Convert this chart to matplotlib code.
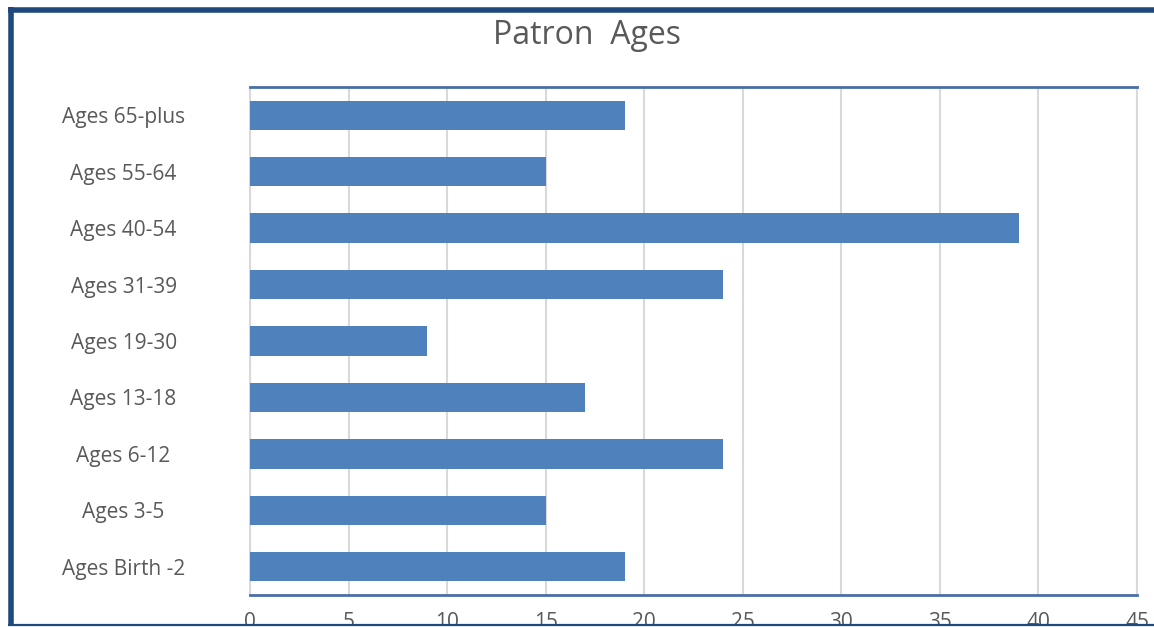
import matplotlib.pyplot as plt
from matplotlib.lines import Line2D

categories = ['Ages Birth -2', 'Ages 3-5', 'Ages 6-12', 'Ages 13-18', 'Ages 19-30',
              'Ages 31-39', 'Ages 40-54', 'Ages 55-64', 'Ages 65-plus']
patrons = [19, 15, 24, 17, 9, 24, 39, 15, 19]
x_ticks = list(range(0, 50, 5))

plt.rcParams['font.family'] = ['Open Sans', 'DejaVu Sans']
text_color = '#595959'
W, H = 1154, 627

fig = plt.figure(figsize=(W / 100, H / 100), dpi=100)
ax = fig.add_axes([250 / W, 1 - 595 / H, (1137 - 250) / W, (595 - 87) / H])

ax.barh(range(len(categories)), patrons, height=0.52, color='#4F81BD', zorder=3)
ax.set_xlim(0, 45)
ax.set_ylim(-0.5, len(categories) - 0.5)
ax.set_xticks(x_ticks)
ax.set_xticklabels([str(t) for t in x_ticks])
ax.set_yticks(range(len(categories)))
ax.set_yticklabels(categories)
ax.tick_params(axis='both', length=0, labelsize=15, colors=text_color)
ax.tick_params(axis='y', pad=91)
ax.tick_params(axis='x', pad=12)
for lab in ax.get_yticklabels():
    lab.set_horizontalalignment('center')
ax.xaxis.grid(True, color='#D9D9D9', linewidth=1.5, zorder=0)

for side in ['left', 'right']:
    ax.spines[side].set_color('#D9D9D9')
    ax.spines[side].set_linewidth(1.5)
for side in ['top', 'bottom']:
    ax.spines[side].set_color('#4A6FA5')
    ax.spines[side].set_linewidth(2)

fig.text(587 / W, 1 - 35 / H, 'Patron  Ages', ha='center', va='center',
         fontsize=23, color=text_color)

# outer frame: thick left and top, thin bottom
frame = '#1F497D'
fig.add_artist(Line2D([10.5 / W, 10.5 / W], [0, 1 - 7 / H], color=frame, lw=4,
                      transform=fig.transFigure, solid_capstyle='butt'))
fig.add_artist(Line2D([8 / W, 1], [1 - 9.5 / H, 1 - 9.5 / H], color=frame, lw=4,
                      transform=fig.transFigure, solid_capstyle='butt'))
fig.add_artist(Line2D([8 / W, 1], [1 - 625 / H, 1 - 625 / H], color=frame, lw=1.6,
                      transform=fig.transFigure, solid_capstyle='butt', zorder=10))

# white strip below the frame hides the lower part of the tick labels
fig.add_artist(plt.Rectangle((0, 0), 1, 1.5 / H, color='white',
                             transform=fig.transFigure, zorder=9))

fig.savefig('out.png', dpi=100)
